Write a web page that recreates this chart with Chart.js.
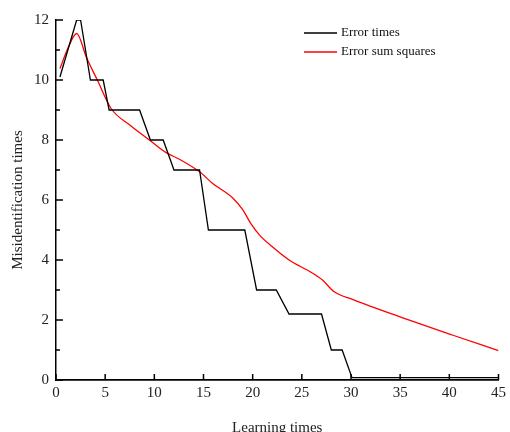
<!DOCTYPE html>
<html>
<head>
<meta charset="utf-8">
<script src="https://cdn.jsdelivr.net/npm/chart.js@4/dist/chart.umd.min.js"></script>
<style>
  html, body { margin: 0; padding: 0; background: #fff; }
  #wrap { width: 510px; height: 432px; }
</style>
</head>
<body>
<div id="wrap"><canvas id="c" width="510" height="432"></canvas></div>
<script>
// data
const errTimesX = [0.4, 2.1, 2.5, 3.5, 4.8, 5.4, 8.5, 9.6, 10.9, 12.0, 14.6, 15.5, 19.2, 20.4, 22.4, 23.7, 27.0, 28.0, 29.1, 30.1, 45];
const errTimesY = [10.1, 12, 12, 10, 10, 9, 9, 8, 8, 7, 7, 5, 5, 3, 3, 2.2, 2.2, 1, 1, 0.08, 0.08];
const sumSqX = [0.4, 1.2, 2.1, 3.1, 4.2, 5.6, 7.5, 9.5, 11.2, 12.6, 14.6, 15.9, 18.0, 19.0, 19.8, 20.7, 22.0, 23.7, 26.1, 27.1, 28.3, 30.2, 35.2, 40.3, 45];
const sumSqY = [10.38, 11.05, 11.55, 10.75, 10.0, 9.05, 8.5, 8.0, 7.58, 7.35, 6.94, 6.56, 6.06, 5.67, 5.22, 4.83, 4.44, 4.0, 3.56, 3.33, 2.94, 2.68, 2.08, 1.5, 0.98];
const xTicks = [0, 5, 10, 15, 20, 25, 30, 35, 40, 45];
const yTicks = [0, 2, 4, 6, 8, 10, 12];
const yMinor = [1, 3, 5, 7, 9, 11];

const FONT = '"Liberation Serif", "Times New Roman", serif';
const pts = (xs, ys) => xs.map((x, i) => ({ x: x, y: ys[i] }));

// inward tick marks drawn from the scales
const innerTicks = {
    id: 'innerTicks',
    afterDraw(chart) {
        const ctx = chart.ctx, xs = chart.scales.x, ys = chart.scales.y;
        const a = chart.chartArea;
        ctx.save();
        ctx.strokeStyle = '#000';
        ctx.lineWidth = 1.5;
        ctx.beginPath();
        yTicks.forEach(v => { const p = ys.getPixelForValue(v); ctx.moveTo(a.left, p); ctx.lineTo(a.left + 7, p); });
        yMinor.forEach(v => { const p = ys.getPixelForValue(v); ctx.moveTo(a.left, p); ctx.lineTo(a.left + 4, p); });
        xTicks.forEach(v => { const p = xs.getPixelForValue(v); ctx.moveTo(p, a.bottom); ctx.lineTo(p, a.bottom - 6); });
        ctx.stroke();
        ctx.restore();
    }
};

// legend in the upper right of the plot
const lineLegend = {
    id: 'lineLegend',
    afterDraw(chart) {
        const ctx = chart.ctx;
        ctx.save();
        ctx.font = '13px ' + FONT;
        ctx.textBaseline = 'middle';
        chart.data.datasets.forEach((ds, i) => {
            const y = 33 + i * 19;
            ctx.strokeStyle = ds.borderColor;
            ctx.lineWidth = 1.3;
            ctx.beginPath();
            ctx.moveTo(304, y);
            ctx.lineTo(337, y);
            ctx.stroke();
            ctx.fillStyle = '#111';
            ctx.fillText(ds.label, 341, y);
        });
        ctx.restore();
    }
};

new Chart(document.getElementById('c'), {
    type: 'line',
    data: {
        datasets: [{
            label: 'Error times',
            data: pts(errTimesX, errTimesY),
            borderColor: '#000',
            borderWidth: 1.3,
            pointRadius: 0,
            tension: 0
        }, {
            label: 'Error sum squares',
            data: pts(sumSqX, sumSqY),
            borderColor: '#ff0000',
            borderWidth: 1.3,
            pointRadius: 0,
            cubicInterpolationMode: 'monotone'
        }]
    },
    options: {
        responsive: false,
        animation: false,
        layout: { padding: { top: 20, right: 9, left: 0, bottom: 0 } },
        plugins: { legend: { display: false }, tooltip: { enabled: false } },
        scales: {
            x: {
                type: 'linear',
                min: 0, max: 45,
                afterFit: s => { s.height = 52; },
                afterBuildTicks: s => { s.ticks = xTicks.map(v => ({ value: v })); },
                grid: { display: false, drawTicks: false },
                border: { display: true, color: '#000', width: 1.8 },
                ticks: { color: '#222', font: { family: FONT, size: 15 }, padding: 4, maxRotation: 0 },
                title: { display: true, text: 'Learning times', color: '#222', font: { family: FONT, size: 15 }, padding: { top: 15, bottom: -5 } }
            },
            y: {
                type: 'linear',
                min: 0, max: 12,
                afterFit: s => { s.width = 56; },
                afterBuildTicks: s => { s.ticks = yTicks.map(v => ({ value: v })); },
                grid: { display: false, drawTicks: false },
                border: { display: true, color: '#000', width: 1.5 },
                ticks: { color: '#222', font: { family: FONT, size: 15 }, padding: 7 },
                title: { display: true, text: 'Misidentification times', color: '#222', font: { family: FONT, size: 15 }, padding: { top: 9, bottom: 0 } }
            }
        }
    },
    plugins: [innerTicks, lineLegend]
});
</script>
</body>
</html>
